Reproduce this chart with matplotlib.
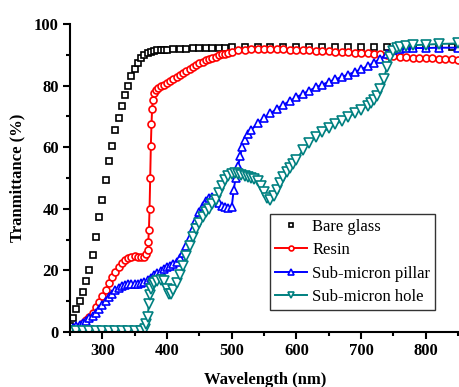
import matplotlib
matplotlib.use("Agg")
import matplotlib.pyplot as plt
from matplotlib.ticker import MultipleLocator

plt.rcParams['font.family'] = ['Liberation Serif', 'DejaVu Serif']

# Bare glass
glass_wl = [250, 255, 260, 265, 270, 275, 280, 285, 290, 295, 300, 305, 310, 315, 320, 325,
            330, 335, 340, 345, 350, 355, 360, 365, 370, 375, 380, 385, 390, 395, 400, 410,
            420, 430, 440, 450, 460, 470, 480, 490, 500, 520, 540, 560, 580, 600, 620, 640,
            660, 680, 700, 720, 740, 760, 780, 800, 820, 840, 850]
glass_t = [2, 4.5, 7.5, 10, 13, 16.5, 20, 25, 31, 37.5, 43, 49.5, 55.5, 60.5, 65.5, 69.5,
           73.5, 77, 80, 83, 85.5, 87.5, 89, 90, 90.6, 91, 91.2, 91.4, 91.5, 91.6, 91.7, 91.8,
           91.9, 92, 92.1, 92.2, 92.3, 92.3, 92.3, 92.3, 92.4, 92.4, 92.4, 92.4, 92.4, 92.4, 92.5, 92.5,
           92.5, 92.5, 92.5, 92.5, 92.6, 92.6, 92.6, 92.6, 92.6, 92.6, 92.6]

# Resin
resin_wl = [250, 255, 260, 265, 270, 275, 280, 285, 290, 295, 300, 305, 310, 315, 320, 325,
            330, 335, 340, 345, 350, 355, 360, 365, 368, 370, 371, 372, 373, 374, 375, 376,
            377, 378, 380, 383, 386, 390, 395, 400, 405, 410, 415, 420, 425, 430, 435, 440,
            445, 450, 455, 460, 465, 470, 475, 480, 485, 490, 495, 500, 510, 520, 530, 540,
            550, 560, 570, 580, 590, 600, 610, 620, 630, 640, 650, 660, 670, 680, 690, 700,
            710, 720, 730, 740, 750, 760, 770, 780, 790, 800, 810, 820, 830, 840, 850]
resin_t = [0.3, 0.7, 1.2, 2, 2.8, 3.8, 5, 6.3, 8, 9.8, 11.7, 13.7, 15.8, 17.8, 19.6, 21.2,
           22.5, 23.4, 24, 24.4, 24.6, 24.5, 24.2, 24.3, 25.2, 26.5, 29.3, 33, 40, 50, 60.5, 67.5,
           72.5, 75.3, 77.5, 78.5, 79.2, 79.8, 80.3, 80.8, 81.4, 82, 82.7, 83.4, 84.1, 84.8, 85.4, 86,
           86.6, 87.2, 87.7, 88.2, 88.6, 89, 89.4, 89.8, 90.1, 90.4, 90.7, 91, 91.4, 91.7, 91.9, 92,
           92, 92, 91.9, 91.8, 91.7, 91.6, 91.5, 91.4, 91.3, 91.2, 91.1, 91, 90.9, 90.8, 90.7, 90.6,
           90.5, 90.4, 90.2, 90, 89.7, 89.4, 89.2, 89.1, 89, 88.9, 88.8, 88.7, 88.6, 88.5, 88.4]

# Sub-micron pillar
pillar_wl = [250, 255, 260, 265, 270, 275, 280, 285, 290, 295, 300, 305, 310, 315, 320, 325,
             330, 335, 340, 345, 350, 355, 360, 365, 370, 375, 380, 385, 390, 395, 400, 405,
             410, 415, 420, 425, 430, 435, 440, 445, 450, 455, 460, 465, 470, 475, 480, 485,
             490, 495, 500, 503, 506, 510, 513, 516, 520, 525, 530, 540, 550, 560, 570, 580,
             590, 600, 610, 620, 630, 640, 650, 660, 670, 680, 690, 700, 710, 720, 730, 740,
             750, 760, 770, 780, 800, 820, 850]
pillar_t = [1, 1.3, 1.8, 2.4, 3, 3.6, 4.4, 5.3, 6.3, 7.5, 8.7, 10, 11.3, 12.5, 13.5, 14.3,
            15, 15.3, 15.5, 15.5, 15.5, 15.6, 15.8, 16.3, 16.9, 17.6, 18.4, 19.2, 19.9, 20.5, 21, 21.5,
            22.1, 22.8, 24, 25.8, 28, 30.5, 33.5, 36.5, 39, 41, 42.5, 43.5, 43.8, 43, 42, 41,
            40.5, 40.2, 40.5, 46, 50, 54, 57, 60, 62.5, 64.3, 65.5, 67.8, 69.5, 71, 72.5, 73.8,
            75, 76.2, 77.3, 78.4, 79.4, 80.3, 81.2, 82, 82.8, 83.6, 84.4, 85.3, 86.3, 87.4, 88.7, 90.2,
            91.4, 92, 92.1, 92.2, 92.2, 92.3, 92.3]

# Sub-micron hole
hole_wl = [250, 260, 270, 280, 290, 300, 310, 320, 330, 340, 350, 360, 366, 368, 370, 372,
           374, 376, 378, 380, 385, 390, 395, 400, 403, 406, 410, 415, 420, 425, 430, 435,
           440, 445, 450, 455, 460, 465, 470, 475, 480, 485, 490, 495, 500, 505, 510, 515,
           520, 525, 530, 535, 540, 545, 550, 555, 560, 565, 570, 575, 580, 585, 590, 595,
           600, 610, 620, 630, 640, 650, 660, 670, 680, 690, 700, 710, 715, 720, 725, 730,
           735, 740, 745, 750, 755, 760, 770, 780, 800, 820, 850]
hole_t = [0.3, 0.3, 0.2, 0.2, 0.2, 0.2, 0.2, 0.2, 0.2, 0.2, 0.2, 0.3, 1, 2.5, 5, 9,
          12, 14, 15.3, 16, 16.5, 16.8, 16.5, 14, 12.5, 12.5, 13.6, 16, 18.5, 21.5, 24.8, 28,
          31, 33.5, 35.5, 37.3, 38.8, 40, 41.5, 43, 45, 47.5, 49.5, 50.8, 51.3, 51.5, 51.3, 51,
          50.6, 50.3, 50, 49.7, 49, 47.5, 45.3, 43.5, 42.9, 44, 46.1, 48.3, 50.2, 51.8, 53.3, 54.6,
          56, 59, 61.5, 63.3, 64.8, 66.2, 67.4, 68.6, 69.8, 71, 72.2, 73.4, 74.3, 75.3, 76.7, 78.8,
          82, 86, 89.2, 91.2, 92.2, 92.6, 92.9, 93.1, 93.3, 93.5, 93.7]

fig = plt.figure(figsize=(4.6, 3.87), dpi=100)
ax = fig.add_axes([70/460, 55/387, 390/460, 308/387])

ax.plot(glass_wl, glass_t, ls='none', marker='s', ms=5, mfc='white', mec='black', mew=1.2,
        label='Bare glass')
ax.plot(resin_wl, resin_t, color='red', lw=1.4, marker='o', ms=5, mfc='white', mec='red', mew=1.2,
        label='Resin')
ax.plot(pillar_wl, pillar_t, color='blue', lw=1.4, marker='^', ms=6, mfc='white', mec='blue', mew=1.2,
        label='Sub-micron pillar')
ax.plot(hole_wl, hole_t, color='#008080', lw=1.4, marker='v', ms=6.5, mfc='white', mec='#008080', mew=1.2,
        label='Sub-micron hole')

ax.set_xlim(250, 853)
ax.set_ylim(0, 100)
ax.xaxis.set_major_locator(MultipleLocator(100))
ax.xaxis.set_minor_locator(MultipleLocator(50))
ax.yaxis.set_major_locator(MultipleLocator(20))
ax.yaxis.set_minor_locator(MultipleLocator(10))

for s in ['top', 'right']:
    ax.spines[s].set_visible(False)
for s in ['left', 'bottom']:
    ax.spines[s].set_linewidth(1.5)

ax.tick_params(which='major', direction='out', length=5, width=1.5, pad=3)
ax.tick_params(which='minor', direction='out', length=3, width=1.5)
for lab in ax.get_xticklabels() + ax.get_yticklabels():
    lab.set_fontweight('bold')
    lab.set_fontsize(12)

ax.set_xlabel('Wavelength (nm)', fontsize=12, fontweight='bold', labelpad=9)
ax.set_ylabel('Tranmittance (%)', fontsize=12, fontweight='bold', labelpad=6)

leg = ax.legend(loc='lower right', bbox_to_anchor=(0.936, 0.071), borderaxespad=0,
                fontsize=12, frameon=True, fancybox=False, edgecolor='black',
                handlelength=1.9, handletextpad=0.3, labelspacing=0.45, markerscale=0.7,
                borderpad=0.3)
leg.get_frame().set_linewidth(1.0)

fig.savefig('out.png', dpi=100)
